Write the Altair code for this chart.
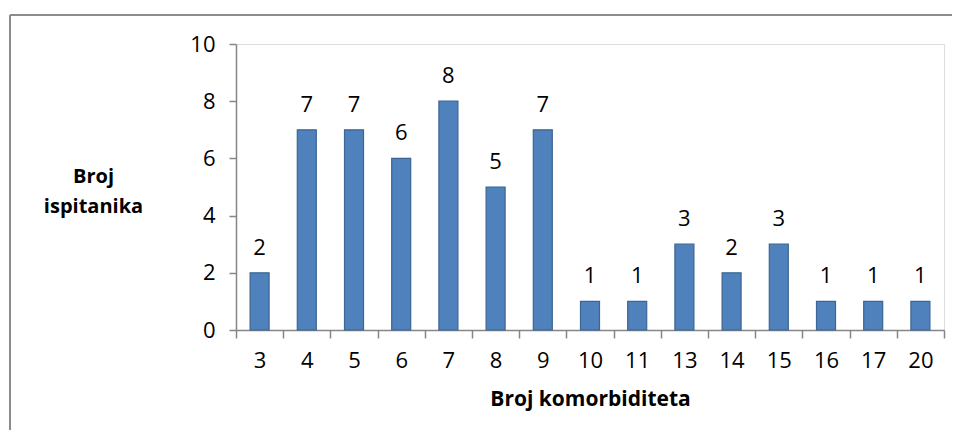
import altair as alt
import pandas as pd

categories = ["3", "4", "5", "6", "7", "8", "9", "10", "11", "13", "14", "15", "16", "17", "20"]
values = [2, 7, 7, 6, 8, 5, 7, 1, 1, 3, 2, 3, 1, 1, 1]

df = pd.DataFrame({"k": categories, "n": values})

FONT = "Open Sans"
W, H = 708, 286

x = alt.X("k:N", sort=categories, title="Broj komorbiditeta",
          scale=alt.Scale(paddingInner=0, paddingOuter=0),
          axis=alt.Axis(labelAngle=0, tickBand="extent", tickSize=8, tickColor="#868686",
                        domainColor="#868686", domainWidth=1.5, tickWidth=1.5,
                        labelFont=FONT, labelFontSize=22, labelColor="#000000",
                        labelPadding=12, titleFont=FONT, titleFontSize=21,
                        titleFontWeight="bold", titleColor="#000000", titlePadding=17))
y = alt.Y("n:Q", title=["Broj", "ispitanika"],
          scale=alt.Scale(domain=[0, 10]),
          axis=alt.Axis(values=[0, 2, 4, 6, 8, 10], grid=False, tickSize=7,
                        tickColor="#868686", domainColor="#868686", domainWidth=1.5, tickWidth=1.5,
                        labelFont=FONT, labelFontSize=22, labelColor="#000000", labelPadding=14,
                        titleFont=FONT, titleFontSize=20, titleFontWeight="bold",
                        titleColor="#000000", titleAngle=0, titleAlign="center",
                        titleBaseline="middle", titleX=-143, titleY=132, titleLineHeight=30))

bars = alt.Chart(df).mark_bar(size=19, color="#4f81bd", stroke="#3b6592", strokeWidth=1.2).encode(x=x, y=y)
labels = alt.Chart(df).mark_text(dy=-18, baseline="alphabetic", font=FONT, fontSize=22,
                                 color="#000000").encode(x=alt.X("k:N", sort=categories),
                                                         y="n:Q", text="n:Q")

border_top = alt.Chart(df).mark_rule(color="#8c8c8c", strokeWidth=2).encode(
    x=alt.value(-226), x2=alt.value(716), y=alt.value(-29))
border_left = alt.Chart(df).mark_rule(color="#8c8c8c", strokeWidth=2).encode(
    x=alt.value(-226), y=alt.value(-29), y2=alt.value(420))

chart = alt.layer(bars, labels, border_top, border_left).properties(
    width=W, height=H,
    autosize=alt.AutoSizeParams(type="none"),
    padding={"left": 228, "top": 36, "right": 8, "bottom": 100},
).configure_view(fill="#e6e6e6", stroke=None).configure(background="#ffffff")

chart.save("out.html", embed_options={"renderer": "svg", "actions": False})
